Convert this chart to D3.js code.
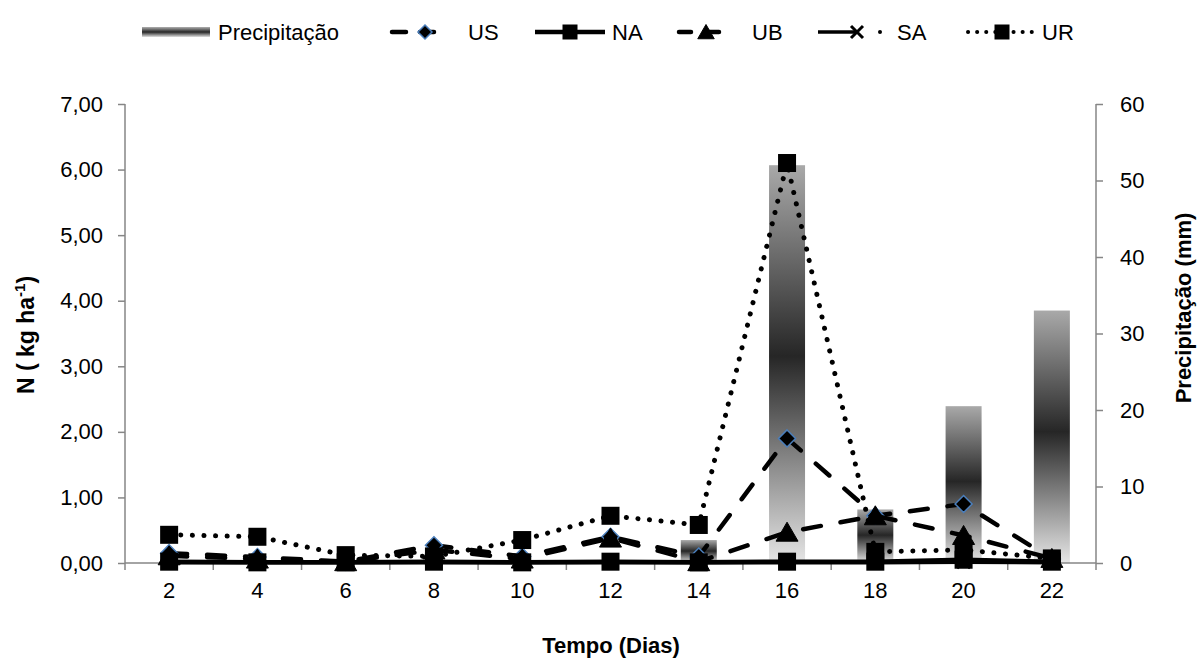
<!DOCTYPE html>
<html>
<head>
<meta charset="utf-8">
<script src="https://cdn.jsdelivr.net/npm/d3@7"></script>
<style>
  html, body { margin: 0; padding: 0; background: #fff; }
  svg { display: block; font-family: Arial, "Liberation Sans", sans-serif; }
</style>
</head>
<body>
<svg id="chart" width="1201" height="659"></svg>
<script>
const days = [2, 4, 6, 8, 10, 12, 14, 16, 18, 20, 22];
const precipitacao = [0, 0, 0, 0, 0, 0, 3, 52, 7, 20.5, 33];
const US = [0.15, 0.09, 0.02, 0.27, 0.10, 0.40, 0.10, 1.90, 0.72, 0.90, 0.06];
const NA = [0.02, 0.01, 0.01, 0.02, 0.01, 0.02, 0.01, 0.02, 0.02, 0.05, 0.02];
const UB = [0.11, 0.06, 0.02, 0.20, 0.06, 0.38, 0.02, 0.47, 0.72, 0.42, 0.07];
const SA = [0.01, 0.01, 0.01, 0.01, 0.01, 0.01, 0.01, 0.01, 0.01, 0.02, 0.01];
const UR = [0.43, 0.40, 0.12, 0.10, 0.35, 0.72, 0.58, 6.10, 0.17, 0.20, 0.07];
const leftTicks = [0, 1, 2, 3, 4, 5, 6, 7];
const rightTicks = [0, 10, 20, 30, 40, 50, 60];

const svg = d3.select("#chart");
const L = 125, R = 1096, T = 104, B = 563;
const axisColor = "#868686";
const fontSize = 22;

const x = d3.scaleBand().domain(days).range([L, R]).paddingInner(0).paddingOuter(0);
const yL = d3.scaleLinear().domain([0, 7]).range([B, T]);
const yR = d3.scaleLinear().domain([0, 60]).range([B, T]);
const cx = d => x(d) + x.bandwidth() / 2;

const defs = svg.append("defs");
const grad = defs.append("linearGradient").attr("id", "barGrad")
  .attr("x1", 0).attr("y1", 0).attr("x2", 0).attr("y2", 1);
grad.append("stop").attr("offset", "0%").attr("stop-color", "#a9a9a9");
grad.append("stop").attr("offset", "48%").attr("stop-color", "#262626");
grad.append("stop").attr("offset", "100%").attr("stop-color", "#e6e6e6");

// bars
const barW = 36;
svg.append("g").selectAll("rect").data(days.map((d, i) => ({d, v: precipitacao[i]})).filter(o => o.v > 0))
  .join("rect")
  .attr("x", o => cx(o.d) - barW / 2)
  .attr("y", o => yR(o.v))
  .attr("width", barW)
  .attr("height", o => B - yR(o.v))
  .attr("fill", "url(#barGrad)");

// axes
const gL = svg.append("g").attr("transform", `translate(${L},0)`)
  .call(d3.axisLeft(yL).tickValues(leftTicks).tickSize(7).tickPadding(15)
    .tickFormat(d => d3.format(".2f")(d).replace(".", ",")));
const gR = svg.append("g").attr("transform", `translate(${R},0)`)
  .call(d3.axisRight(yR).tickValues(rightTicks).tickSize(7).tickPadding(17));
const gX = svg.append("g").attr("transform", `translate(0,${B})`)
  .call(d3.axisBottom(x).tickSize(0).tickPadding(0));
gX.selectAll(".tick text").attr("dy", null).attr("y", 35);

const bounds = days.map(d => x(d)).concat([R]);
svg.append("g").selectAll("line").data(bounds).join("line")
  .attr("x1", d => d).attr("x2", d => d).attr("y1", B).attr("y2", B + 7)
  .attr("stroke", axisColor).attr("stroke-width", 1.5);

[gL, gR, gX].forEach(g => {
  g.select(".domain").attr("stroke", axisColor).attr("stroke-width", 1.5);
  g.selectAll(".tick line").attr("stroke", axisColor).attr("stroke-width", 1.5);
  g.selectAll("text").attr("font-size", fontSize).attr("fill", "#000")
    .attr("font-family", "Arial, 'Liberation Sans', sans-serif");
});
gL.select(".domain").attr("d", `M0,${T}V${B}`);
gR.select(".domain").attr("d", `M0,${T}V${B}`);
gX.select(".domain").attr("d", `M0,0H${R - L}`).attr("transform", `translate(${L},0)`);

function drawMarker(g, type, px, py, s) {
  if (type === "square") {
    g.append("rect").attr("x", px - s / 2).attr("y", py - s / 2).attr("width", s).attr("height", s).attr("fill", "#000");
  } else if (type === "diamond") {
    g.append("path").attr("d", `M${px},${py - s / 2}L${px + s / 2},${py}L${px},${py + s / 2}L${px - s / 2},${py}Z`)
      .attr("fill", "#000").attr("stroke", "#4a7ebb").attr("stroke-width", 1.5);
  } else if (type === "triangle") {
    g.append("path").attr("d", `M${px},${py - s * 0.5}L${px + s * 0.55},${py + s * 0.45}L${px - s * 0.55},${py + s * 0.45}Z`)
      .attr("fill", "#000").attr("stroke", "#000").attr("stroke-width", 1);
  } else if (type === "x") {
    const h = s / 2;
    g.append("path").attr("d", `M${px - h},${py - h}L${px + h},${py + h}M${px - h},${py + h}L${px + h},${py - h}`)
      .attr("stroke", "#000").attr("stroke-width", 3);
  }
}

const series = [
  {name: "US", values: US, dash: "18 20", marker: "diamond", ms: 17},
  {name: "NA", values: NA, dash: null, marker: "square", ms: 18},
  {name: "UB", values: UB, dash: "18 20", marker: "triangle", ms: 20},
  {name: "SA", values: SA, dash: null, marker: "x", ms: 13},
  {name: "UR", values: UR, dash: "0.1 11.5", marker: "square", ms: 18}
];

const line = d3.line().x(d => cx(d.d)).y(d => yL(d.v));
series.forEach(s => {
  const g = svg.append("g");
  const pts = days.map((d, i) => ({d, v: s.values[i]}));
  g.append("path").datum(pts).attr("d", line).attr("fill", "none")
    .attr("stroke", "#000").attr("stroke-width", s.name === "UR" ? 5 : 4.5)
    .attr("stroke-linecap", "round").attr("stroke-linejoin", "round")
    .attr("stroke-dasharray", s.dash);
  pts.forEach(p => drawMarker(g, s.marker, cx(p.d), yL(p.v), s.ms));
});

// legend
const lg = svg.append("g");
const ly = 32;
const lgGrad = defs.append("linearGradient").attr("id", "lgGrad").attr("x1", 0).attr("y1", 0).attr("x2", 0).attr("y2", 1);
lgGrad.append("stop").attr("offset", "0%").attr("stop-color", "#b0b0b0");
lgGrad.append("stop").attr("offset", "50%").attr("stop-color", "#262626");
lgGrad.append("stop").attr("offset", "100%").attr("stop-color", "#e0e0e0");
lg.append("rect").attr("x", 142).attr("y", ly - 5).attr("width", 68).attr("height", 10).attr("fill", "url(#lgGrad)");
const legendText = (tx, t) => lg.append("text").attr("x", tx).attr("y", ly + 8).attr("font-size", fontSize).text(t);
legendText(218, "Precipitação");

lg.append("path").attr("d", `M392,${ly}H446`).attr("stroke", "#000").attr("stroke-width", 4.5).attr("stroke-dasharray", "14 14").attr("stroke-linecap", "round");
drawMarker(lg, "diamond", 425, ly, 14);
legendText(468, "US");
lg.append("path").attr("d", `M535,${ly}H605`).attr("stroke", "#000").attr("stroke-width", 4.5);
drawMarker(lg, "square", 570, ly, 15);
legendText(612, "NA");
lg.append("path").attr("d", `M679,${ly}H733`).attr("stroke", "#000").attr("stroke-width", 4.5).attr("stroke-dasharray", "12 16").attr("stroke-linecap", "round");
drawMarker(lg, "triangle", 706, ly, 15);
legendText(752, "UB");
lg.append("path").attr("d", `M818,${ly}H856`).attr("stroke", "#000").attr("stroke-width", 3.5);
drawMarker(lg, "x", 857, ly, 12);
lg.append("circle").attr("cx", 880).attr("cy", ly).attr("r", 2).attr("fill", "#000");
legendText(897, "SA");
lg.append("path").attr("d", `M968,${ly}H1036`).attr("stroke", "#000").attr("stroke-width", 4).attr("stroke-dasharray", "0.1 9").attr("stroke-linecap", "round");
drawMarker(lg, "square", 1002, ly, 15);
legendText(1042, "UR");

// titles
svg.append("text").attr("x", 611).attr("y", 653).attr("text-anchor", "middle")
  .attr("font-size", 22).attr("font-weight", "bold").text("Tempo (Dias)");
const lt = svg.append("text").attr("transform", "translate(34,335) rotate(-90)").attr("text-anchor", "middle")
  .attr("font-size", 23).attr("font-weight", "bold");
lt.append("tspan").text("N ( kg ha");
lt.append("tspan").attr("font-size", 15).attr("dy", -9).text("-1");
lt.append("tspan").attr("dy", 9).text(")");
svg.append("text").attr("transform", "translate(1191,308) rotate(-90)").attr("text-anchor", "middle")
  .attr("font-size", 22).attr("font-weight", "bold").text("Precipitação (mm)");
</script>
</body>
</html>
